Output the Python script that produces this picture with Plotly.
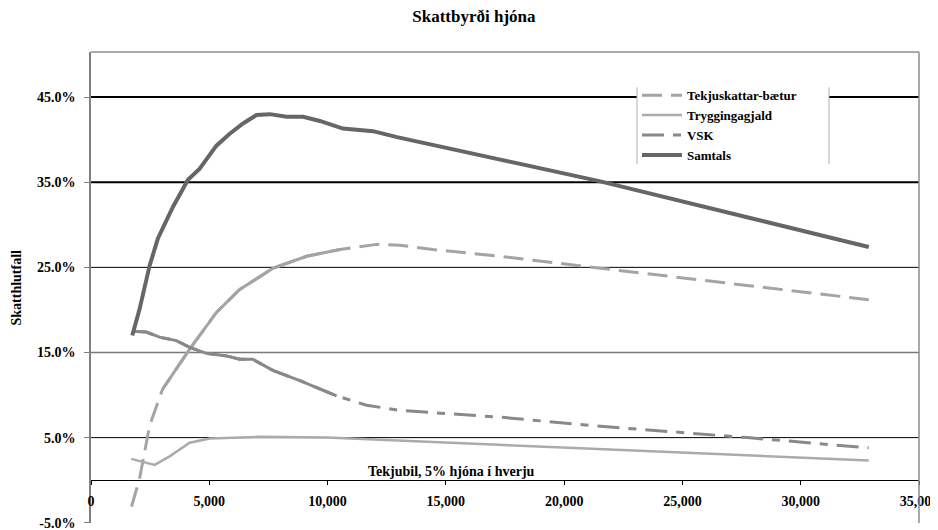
import plotly.graph_objects as go

# ---- data ----
y_ticks = [-5, 5, 15, 25, 35, 45]
x_ticks = [0, 5000, 10000, 15000, 20000, 25000, 30000, 35000]

tekju_x = [1715, 2054, 2477, 3027, 4171, 5301, 6287, 7697, 9112, 10522, 12075, 13062, 14459, 17296, 21530, 32876]
tekju_y = [-3.1, 0.2, 6.4, 10.7, 15.4, 19.7, 22.4, 24.9, 26.3, 27.1, 27.7, 27.6, 27.1, 26.3, 24.9, 21.2]

trygg_x = [1702, 2689, 3324, 4171, 5018, 5991, 7134, 9971, 13062, 20684, 32876]
trygg_y = [2.5, 1.8, 2.8, 4.4, 4.9, 5.0, 5.1, 5.0, 4.65, 3.75, 2.3]

vsk_x = [1744, 2337, 2900, 3607, 4171, 4878, 5724, 6287, 6838, 7685, 8828, 10382, 11652, 13062, 17296, 21246, 27741, 32876]
vsk_y = [17.5, 17.4, 16.8, 16.4, 15.6, 14.9, 14.6, 14.2, 14.2, 12.9, 11.7, 9.9, 8.8, 8.2, 7.4, 6.4, 5.0, 3.8]

samtals_x = [1744, 2054, 2477, 2828, 3463, 4099, 4594, 5018, 5301, 5864, 6427, 6995, 7558, 8265, 8968, 9675, 10649, 11919, 12935, 21530, 32876]
samtals_y = [17.0, 20.1, 25.2, 28.4, 32.1, 35.3, 36.6, 38.2, 39.3, 40.7, 41.9, 42.9, 43.0, 42.7, 42.7, 42.2, 41.3, 41.0, 40.3, 35.1, 27.4]

names = ["Tekjuskattar-bætur", "Tryggingagjald", "VSK", "Samtals"]
title = "Skattbyrði hjóna"
y_title = "Skatthlutfall"
x_title = "Tekjubil, 5% hjóna í hverju"

FONT = '"Liberation Serif", "Times New Roman", Times, serif'
C_TEK = "#a4a4a4"
C_TRY = "#ababab"
C_VSK = "#898989"
C_SAM = "#666666"

fig = go.Figure()

# Tekjuskattar-bætur: dashed, the dense middle section renders solid
fig.add_trace(go.Scatter(x=tekju_x, y=tekju_y, mode="lines", name=names[0],
                         line=dict(color=C_TEK, width=3, dash="20px,9px")))
fig.add_trace(go.Scatter(x=tekju_x[3:10], y=tekju_y[3:10], mode="lines", showlegend=False,
                         hoverinfo="skip", line=dict(color=C_TEK, width=3)))
# Tryggingagjald
fig.add_trace(go.Scatter(x=trygg_x, y=trygg_y, mode="lines", name=names[1],
                         line=dict(color=C_TRY, width=2.5)))
# VSK: long-short dash, solid in the dense left section
fig.add_trace(go.Scatter(x=vsk_x, y=vsk_y, mode="lines", name=names[2],
                         line=dict(color=C_VSK, width=3, dash="22px,9px,8px,9px")))
fig.add_trace(go.Scatter(x=vsk_x[:12], y=vsk_y[:12], mode="lines", showlegend=False,
                         hoverinfo="skip", line=dict(color=C_VSK, width=3)))
# Samtals
fig.add_trace(go.Scatter(x=samtals_x, y=samtals_y, mode="lines", name=names[3],
                         line=dict(color=C_SAM, width=4)))

shapes = []
grid_style = {45: ("#000000", 2), 35: ("#000000", 2), 25: ("#000000", 1),
              15: ("#7a7a7a", 1.5), 5: ("#000000", 1)}
for v in y_ticks:
    if v in grid_style:
        c, w = grid_style[v]
        shapes.append(dict(type="line", xref="paper", yref="y", x0=0, x1=1, y0=v, y1=v,
                           line=dict(color=c, width=w), layer="below"))
# plot border (top and right)
shapes.append(dict(type="line", xref="paper", yref="paper", x0=0, x1=1, y0=1, y1=1,
                   line=dict(color="#8c8c8c", width=1.5)))
shapes.append(dict(type="line", xref="paper", yref="paper", x0=1, x1=1, y0=0, y1=1,
                   line=dict(color="#8c8c8c", width=1.5)))
# legend box (white, with vertical side borders)
LX0, LX1, LY0, LY1 = 0.6594, 0.8913, 0.762, 0.925
shapes.append(dict(type="rect", xref="paper", yref="paper", x0=LX0, x1=LX1, y0=LY0, y1=LY1,
                   fillcolor="white", line=dict(width=0), layer="between"))
for xx in (LX0, LX1):
    shapes.append(dict(type="line", xref="paper", yref="paper", x0=xx, x1=xx, y0=LY0, y1=LY1,
                       line=dict(color="#b0b0b0", width=1), layer="between"))

y_range = [-5.03, 50.3]
zero_pos = (0 - y_range[0]) / (y_range[1] - y_range[0])
y_text = [f"{v:.1f}%" for v in y_ticks]

# the page body has an 8px margin, so the figure is 8px smaller than the window
fig.update_layout(
    width=930, height=522,
    margin=dict(l=83, r=19, t=44, b=7, autoexpand=False),
    paper_bgcolor="white", plot_bgcolor="white",
    font=dict(family=FONT, color="black", size=14),
    title=dict(text=title, x=0.501, xref="container", xanchor="center",
               y=1 - 8 / 522, yref="container", yanchor="middle",
               font=dict(family=FONT, size=17, weight="bold", color="black")),
    showlegend=True,
    legend=dict(x=LX0, y=0.94, xanchor="left", yanchor="top", bgcolor="rgba(0,0,0,0)",
                font=dict(family=FONT, size=13, weight="bold", color="black"),
                itemwidth=40, tracegroupgap=0, borderwidth=0),
    shapes=shapes,
    xaxis=dict(range=[0, 35000], tickvals=x_ticks, tickformat=",d",
               anchor="free", position=zero_pos, automargin=False,
               showline=True, linecolor="black", linewidth=1,
               ticks="outside", ticklen=4, tickcolor="black",
               showgrid=False, zeroline=False, ticklabelstandoff=4,
               ticklabeloverflow="allow",
               tickfont=dict(family=FONT, size=14, weight="bold", color="black")),
    yaxis=dict(range=y_range, tickvals=y_ticks, ticktext=y_text, automargin=False,
               showline=True, linecolor="#808080", linewidth=1.5,
               ticks="outside", ticklen=5, tickcolor="#808080",
               showgrid=False, zeroline=False, ticklabelstandoff=6,
               ticklabeloverflow="allow",
               tickfont=dict(family=FONT, size=14, weight="bold", color="black")),
    annotations=[
        dict(text=x_title, xref="x", yref="y", x=15250, y=1.0, showarrow=False,
             xanchor="center", yanchor="middle",
             font=dict(family=FONT, size=14, weight="bold", color="black")),
        dict(text=y_title, xref="paper", yref="paper", x=(16 - 91) / 828, y=0.5,
             textangle=-90, showarrow=False, xanchor="center", yanchor="middle",
             font=dict(family=FONT, size=14, weight="bold", color="black")),
    ],
)

fig.write_html("out.html")
